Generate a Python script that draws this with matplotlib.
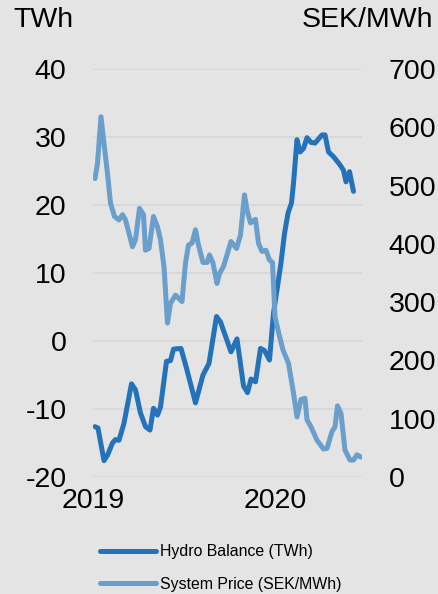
import matplotlib
matplotlib.use('Agg')

import matplotlib.pyplot as plt
import matplotlib.dates as mdates
import pandas as pd

# Data
hydro_dates = ['2019-01-05', '2019-01-11', '2019-01-23', '2019-01-30', '2019-02-09',
               '2019-02-15', '2019-02-22', '2019-03-04', '2019-03-19', '2019-03-27',
               '2019-04-06', '2019-04-16', '2019-04-25', '2019-05-02', '2019-05-10',
               '2019-05-16', '2019-05-28', '2019-06-05', '2019-06-11', '2019-06-26',
               '2019-07-07', '2019-07-25', '2019-08-09', '2019-08-21', '2019-09-05',
               '2019-09-13', '2019-10-04', '2019-10-16', '2019-10-29', '2019-11-06',
               '2019-11-13', '2019-11-22', '2019-12-02', '2019-12-10', '2019-12-20',
               '2019-12-28', '2020-01-05', '2020-01-12', '2020-01-19', '2020-01-26',
               '2020-02-02', '2020-02-06', '2020-02-13', '2020-02-19', '2020-02-26',
               '2020-03-04', '2020-03-12', '2020-03-20', '2020-04-03', '2020-04-09',
               '2020-04-16', '2020-04-26', '2020-05-09', '2020-05-16', '2020-05-21',
               '2020-05-28', '2020-06-05']
hydro_twh = [-12.6, -12.8, -17.6, -16.8, -15.0,
             -14.5, -14.6, -12.1, -6.3, -7.2,
             -10.6, -12.6, -13.1, -9.9, -10.9,
             -9.7, -3.0, -2.9, -1.2, -1.1,
             -4.0, -9.1, -5.0, -3.3, 3.6,
             2.8, -1.6, 0.3, -6.6, -7.6,
             -5.6, -6.0, -1.1, -1.4, -2.8,
             4.1, 8.0, 11.5, 15.8, 18.8,
             20.3, 23.2, 29.6, 27.8, 28.3,
             29.9, 29.2, 29.1, 30.3, 30.3,
             27.8, 27.1, 25.9, 25.1, 23.4,
             24.9, 22.0]

price_dates = ['2019-01-05', '2019-01-10', '2019-01-17', '2019-01-23', '2019-01-30',
               '2019-02-05', '2019-02-13', '2019-02-22', '2019-03-01', '2019-03-07',
               '2019-03-21', '2019-03-27', '2019-04-04', '2019-04-12', '2019-04-16',
               '2019-04-23', '2019-05-02', '2019-05-10', '2019-05-16', '2019-05-23',
               '2019-05-30', '2019-06-05', '2019-06-15', '2019-06-28', '2019-07-05',
               '2019-07-11', '2019-07-18', '2019-07-25', '2019-07-31', '2019-08-09',
               '2019-08-17', '2019-08-22', '2019-08-29', '2019-09-06', '2019-09-11',
               '2019-09-19', '2019-10-04', '2019-10-15', '2019-10-23', '2019-10-31',
               '2019-11-05', '2019-11-12', '2019-11-22', '2019-11-28', '2019-12-05',
               '2019-12-13', '2019-12-20', '2019-12-26', '2019-12-31', '2020-01-08',
               '2020-01-16', '2020-01-27', '2020-02-06', '2020-02-13', '2020-02-21',
               '2020-02-29', '2020-03-04', '2020-03-12', '2020-03-24', '2020-04-06',
               '2020-04-13', '2020-04-23', '2020-04-29', '2020-05-04', '2020-05-11',
               '2020-05-19', '2020-05-29', '2020-06-05', '2020-06-12', '2020-06-20']
price_sek = [512, 538, 618, 572, 521,
             470, 447, 441, 450, 441,
             395, 407, 461, 450, 389,
             392, 447, 429, 407, 361,
             264, 298, 312, 301, 367,
             398, 401, 424, 398, 368,
             368, 381, 367, 332, 349,
             361, 404, 392, 415, 484,
             458, 436, 442, 401, 387,
             389, 372, 368, 275, 245,
             218, 195, 144, 103, 133,
             135, 98, 86, 63, 48,
             49, 78, 86, 122, 109,
             46, 29, 29, 38, 34]

left_ticks = [-20, -10, 0, 10, 20, 30, 40]
right_ticks = [0, 100, 200, 300, 400, 500, 600, 700]
year_ticks = ['2019-01-01', '2020-01-01']

bg = '#E4E4E4'
dark_blue = '#2372BA'
light_blue = '#6A9ECB'
plt.rcParams['font.family'] = ['Liberation Sans', 'DejaVu Sans']
plt.rcParams['axes.unicode_minus'] = False  # plain hyphen like the original

fig = plt.figure(figsize=(4.38, 5.94), dpi=100, facecolor=bg)
ax = fig.add_axes([0.2123, 0.197, 0.6142, 0.6869])
ax.set_facecolor(bg)
ax2 = ax.twinx()

hydro_line, = ax.plot(pd.to_datetime(hydro_dates), hydro_twh, color=dark_blue,
                      lw=3.6, solid_capstyle='round', solid_joinstyle='round',
                      label='Hydro Balance (TWh)')
price_line, = ax2.plot(pd.to_datetime(price_dates), price_sek, color=light_blue,
                       lw=3.6, solid_capstyle='round', solid_joinstyle='round',
                       label='System Price (SEK/MWh)')

# Axes limits and ticks
ax.set_ylim(-20, 40)
ax2.set_ylim(0, 700)
ax.set_xlim(pd.Timestamp('2019-01-02'), pd.Timestamp('2020-06-22'))
ax.set_yticks(left_ticks)
ax2.set_yticks(right_ticks)
ax.set_xticks(pd.to_datetime(year_ticks))
ax.xaxis.set_major_formatter(mdates.DateFormatter('%Y'))

ax.grid(axis='y', color='#D6D6D6', lw=1.2)
ax.set_axisbelow(True)
for a in (ax, ax2):
    for s in a.spines.values():
        s.set_visible(False)
ax.tick_params(axis='y', length=0, pad=19, labelsize=20.5)
ax2.tick_params(axis='y', length=0, pad=19, labelsize=20.5)
ax.tick_params(axis='x', length=0, pad=8, labelsize=20.5)

# Unit labels
fig.text(0.03, 0.967, 'TWh', fontsize=20.5, ha='left', va='center')
fig.text(0.988, 0.967, 'SEK/MWh', fontsize=20.5, ha='right', va='center')

# Legend below the chart
fig.legend(handles=[hydro_line, price_line], loc='center left',
           bbox_to_anchor=(0.229, 0.0435), frameon=False, fontsize=11.4,
           handlelength=3.5, handletextpad=0.3, labelspacing=1.1,
           borderpad=0, borderaxespad=0)

fig.savefig('out.png', dpi=100, facecolor=bg)
